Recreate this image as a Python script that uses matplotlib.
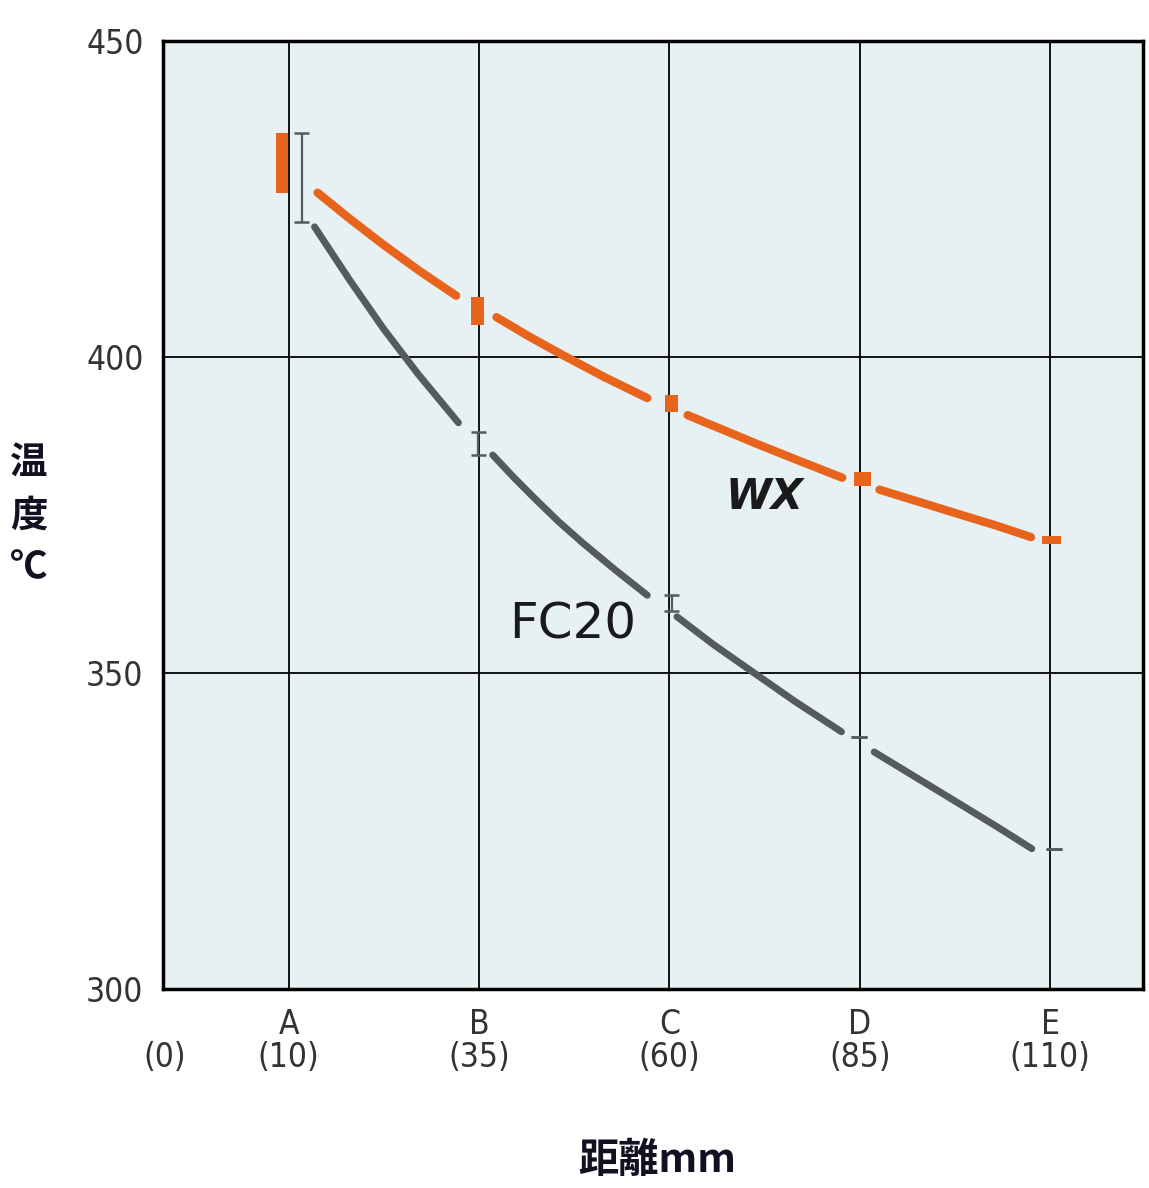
import matplotlib.pyplot as plt

plt.rcParams['font.family'] = ['Noto Sans CJK JP', 'DejaVu Sans']

# x positions (mm) of the measuring points and their labels
point_x = [10, 35, 60, 85, 110]
point_names = ['A', 'B', 'C', 'D', 'E']

# WX curve, read in pieces (the line breaks around each marker)
wx_segments = [
    ([13.8, 18.0, 22.3, 27.2, 32.0], [426.0, 421.9, 417.9, 413.6, 409.7]),
    ([37.3, 41.5, 46.0, 51.5, 57.1], [406.3, 403.3, 400.3, 396.8, 393.5]),
    ([62.4, 67.0, 71.8, 77.0, 82.7], [390.8, 388.5, 386.1, 383.6, 380.9]),
    ([87.6, 93.0, 98.1, 103.0, 107.5], [379.0, 377.0, 375.1, 373.3, 371.5]),
]
# WX markers: x, low, high
wx_mark_x = [9.1, 34.8, 60.3, 85.4, 110.2]
wx_mark_lo = [426.0, 405.1, 391.3, 379.6, 370.4]
wx_mark_hi = [435.4, 409.5, 394.0, 381.8, 371.6]

# FC20 curve pieces
fc_segments = [
    ([13.4, 18.0, 22.5, 27.0, 32.3], [420.6, 412.2, 404.4, 397.3, 389.6]),
    ([36.8, 39.6, 42.5, 45.5, 48.6, 52.8, 57.1], [384.5, 380.9, 377.4, 373.9, 370.6, 366.4, 362.3]),
    ([61.0, 65.8, 70.9, 76.5, 82.6], [358.9, 354.5, 350.2, 345.5, 340.7]),
    ([86.9, 92.5, 98.1, 103.0, 107.6], [337.5, 333.4, 329.3, 325.7, 322.2]),
]
# FC20 scatter bars: x, low, high
fc_bar_x = [11.7, 34.9, 60.3, 84.9, 110.5]
fc_bar_lo = [421.4, 384.5, 359.8, 339.9, 322.2]
fc_bar_hi = [435.4, 388.1, 362.3, 339.9, 322.2]

orange = '#e8641c'
gray = '#555a5a'
bg = '#e7f1f3'

fig = plt.figure(figsize=(11.49, 11.88), dpi=100)
ax = fig.add_axes([163 / 1149, 199 / 1188, 980 / 1149, 948 / 1188])
ax.set_facecolor(bg)
ax.set_xlim(-6.5, 122.2)
ax.set_ylim(300, 450)

# grid
for x in point_x:
    ax.axvline(x, color='black', lw=1.3, zorder=1)
for y in [350, 400]:
    ax.axhline(y, color='black', lw=1.3, zorder=1)

# curves
for xs, ys in wx_segments:
    ax.plot(xs, ys, color=orange, lw=6.0, solid_capstyle='round',
            solid_joinstyle='round', zorder=3)
for xs, ys in fc_segments:
    ax.plot(xs, ys, color=gray, lw=5.0, solid_capstyle='round',
            solid_joinstyle='round', zorder=3)

# WX markers
wx_mark_w = [1.6, 1.8, 1.7, 2.2, 2.5]
ax.bar(wx_mark_x, [h - l for l, h in zip(wx_mark_lo, wx_mark_hi)], bottom=wx_mark_lo,
       width=wx_mark_w, color=orange, zorder=4)

# FC20 scatter bars
for x, lo, hi in zip(fc_bar_x, fc_bar_lo, fc_bar_hi):
    ax.vlines(x, lo, hi, color=gray, lw=1.6, zorder=4)
    ax.hlines([lo, hi], x - 1.0, x + 1.0, color=gray, lw=1.8, zorder=4)

ax.text(72.5, 377.8, 'WX', fontsize=30, fontweight='bold', fontstyle='italic',
        family='DejaVu Sans', color='#1a1a1a', ha='center', va='center', zorder=5)
ax.text(47.3, 357.6, 'FC20', fontsize=36, family='DejaVu Sans', color='#1a1a1a',
        ha='center', va='center', zorder=5)

# axes ticks
ax.set_yticks([300, 350, 400, 450])
ax.set_yticklabels(['300', '350', '400', '450'], family='DejaVu Sans',
                   fontstretch='condensed', fontsize=24, color='#333333')
ax.set_xticks([-6.25] + point_x)
ax.set_xticklabels(['\n(0)'] + [f'{n}\n({x})' for n, x in zip(point_names, point_x)],
                   family='DejaVu Sans', fontstretch='condensed', fontsize=24,
                   color='#333333', linespacing=1.0)
ax.tick_params(axis='x', length=0, pad=14)
ax.tick_params(axis='y', length=0, pad=14)
for s in ax.spines.values():
    s.set_linewidth(2.5)
    s.set_color('black')

fig.text(29 / 1149, 1 - 515 / 1188, '温\n度\n℃', fontsize=27, fontweight='bold',
         color='#111122', ha='center', va='center', linespacing=1.4)
fig.text(657 / 1149, 1 - 1160 / 1188, '距離mm', fontsize=29, fontweight='bold',
         color='#111122', ha='center', va='center')

fig.savefig('out.png', dpi=100)
